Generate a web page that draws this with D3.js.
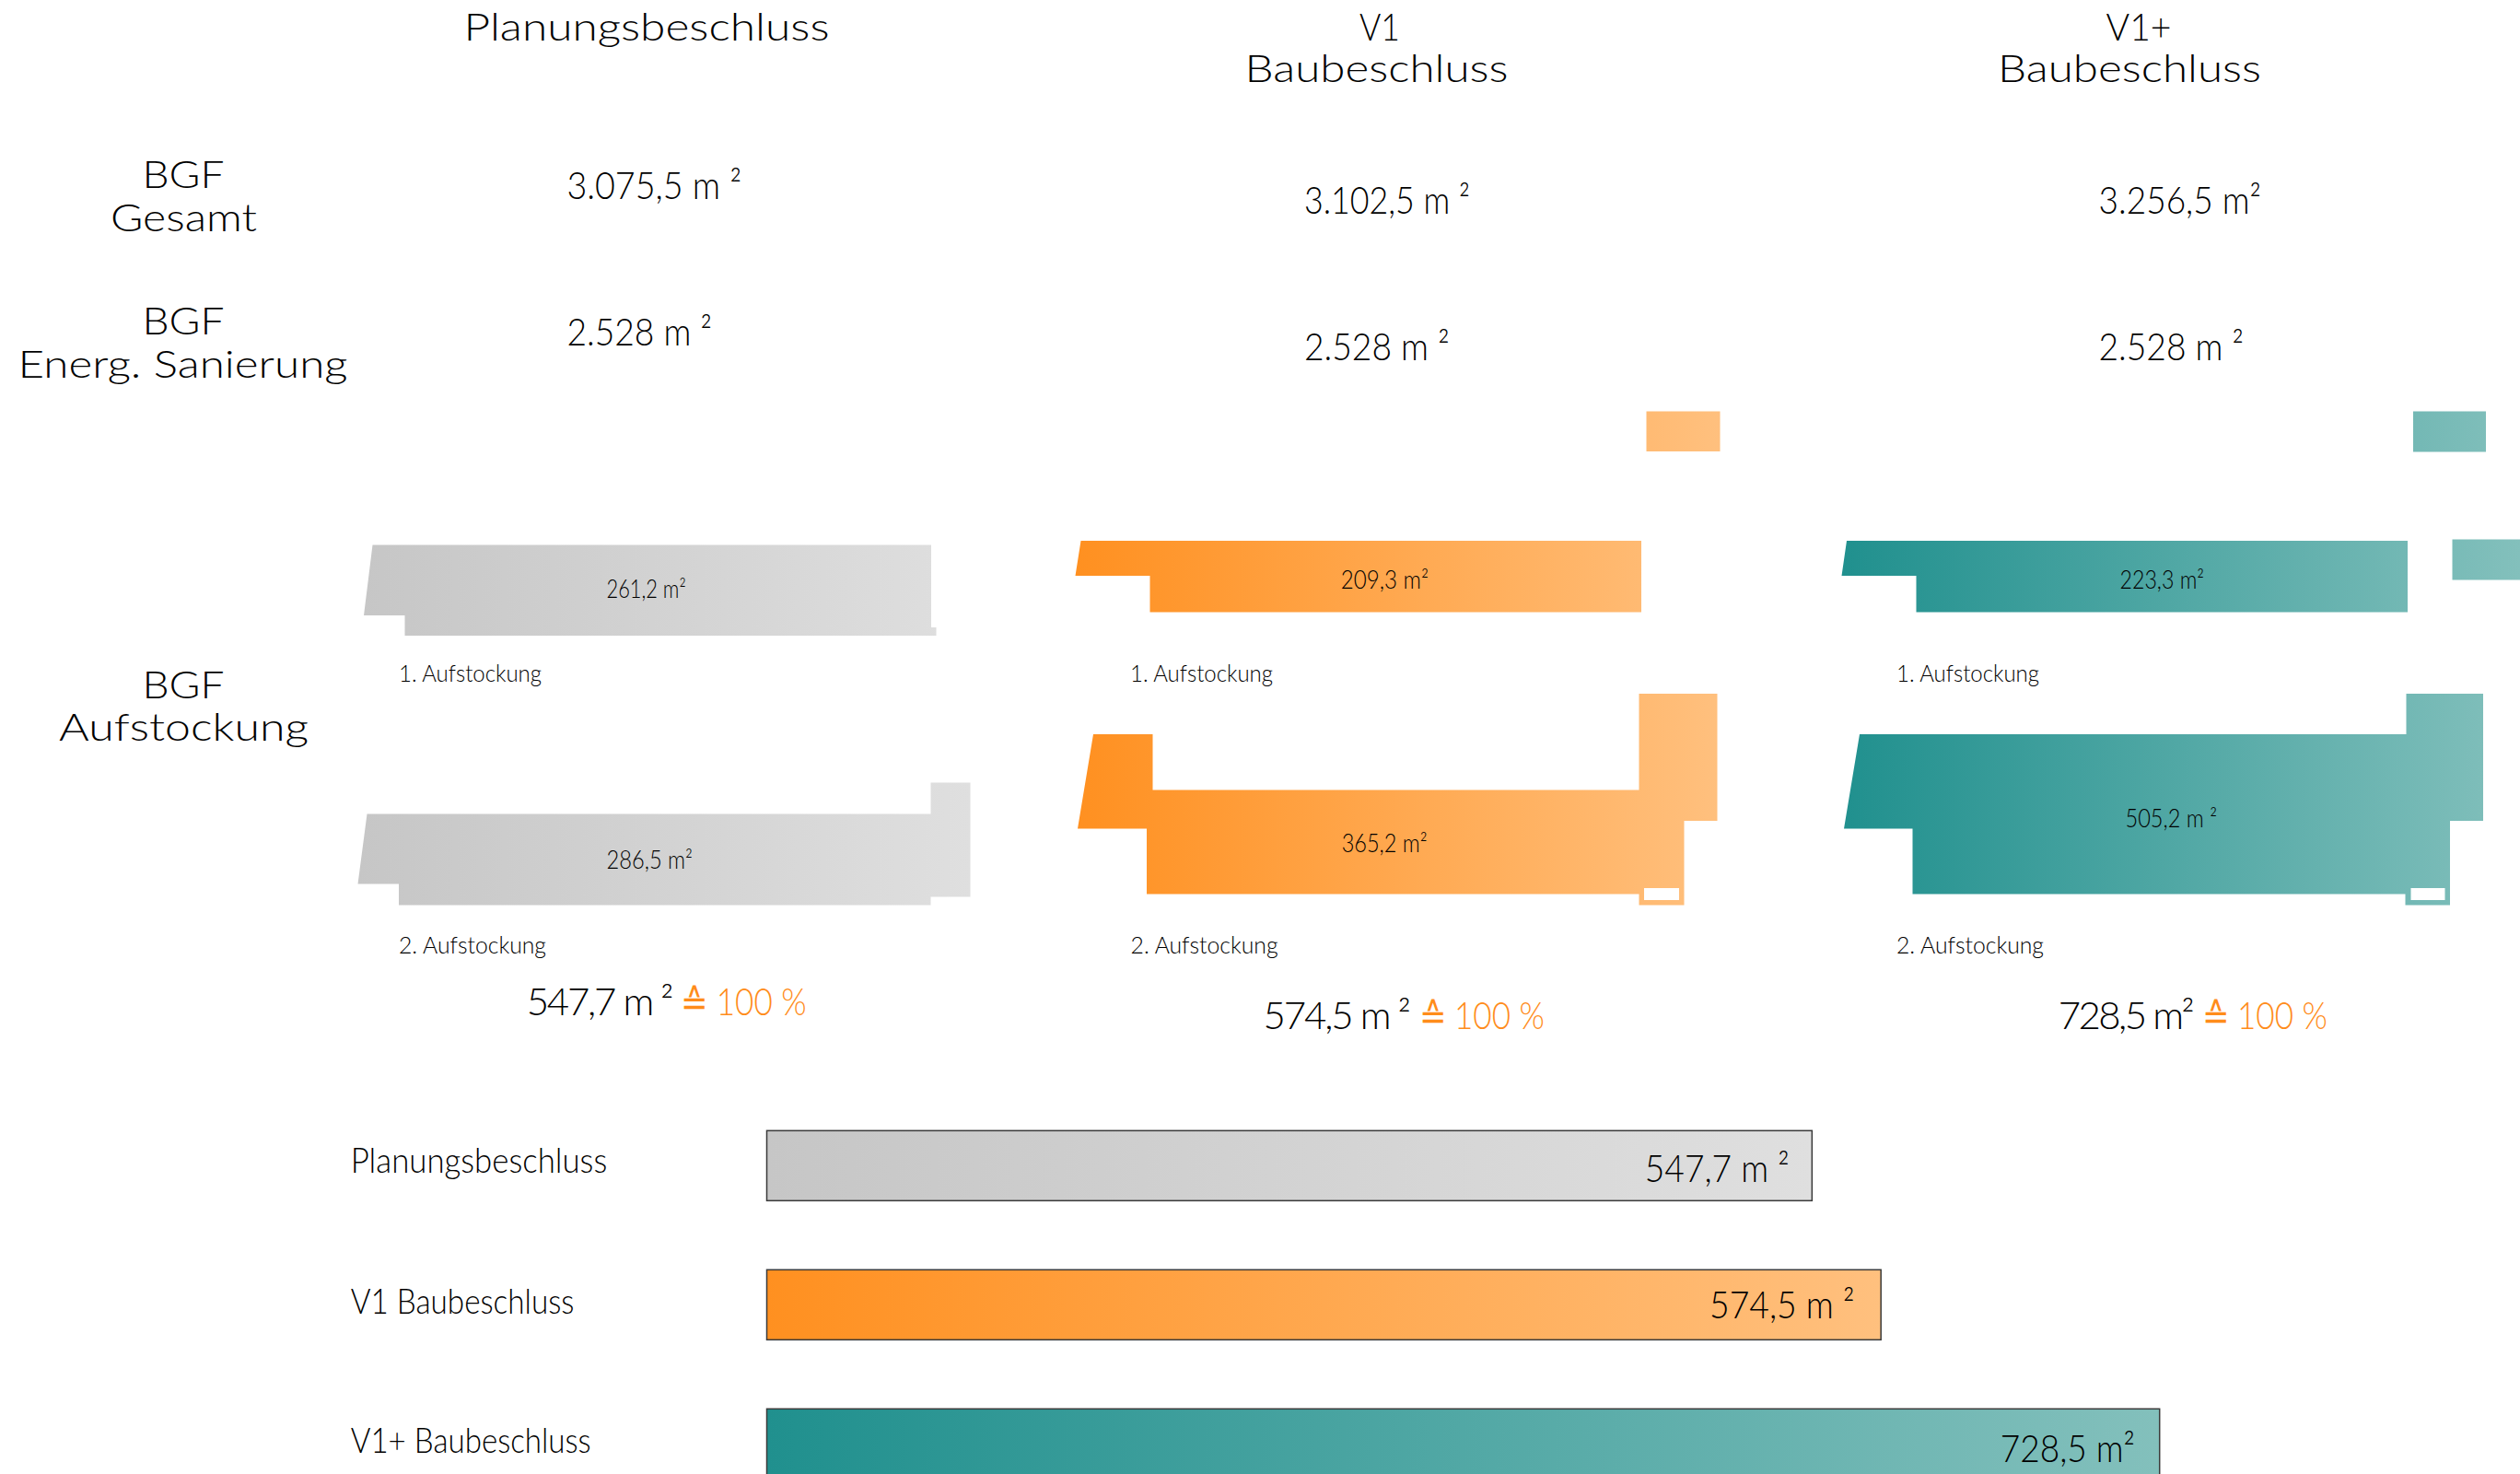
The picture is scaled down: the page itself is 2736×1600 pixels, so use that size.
<!DOCTYPE html>
<html>
<head>
<meta charset="utf-8">
<script src="https://cdn.jsdelivr.net/npm/d3@7"></script>
<style>
  html, body { margin: 0; padding: 0; background: white; overflow: hidden; }
  svg { display: block; }
  text { font-family: Lato, "Open Sans", sans-serif; font-weight: 300; fill: #000; }
</style>
</head>
<body>
<div id="chart"></div>
<script>
// values
const barNames = ['Planungsbeschluss', 'V1 Baubeschluss', 'V1+ Baubeschluss'];
const barLabels = ['547,7 m \u00b2', '574,5 m \u00b2', '728,5 m\u00b2'];
// the V1 bar is drawn a bit longer than its label says, same as in the picture
const barLengths = [547.3, 583.4, 729.3];

const bgfGesamt = ['3.075,5 m \u00b2', '3.102,5 m \u00b2', '3.256,5 m\u00b2'];
const bgfSanierung = ['2.528 m \u00b2', '2.528 m \u00b2', '2.528 m \u00b2'];
const floor1 = ['261,2 m\u00b2', '209,3 m\u00b2', '223,3 m\u00b2'];
const floor2 = ['286,5 m\u00b2', '365,2 m\u00b2', '505,2 m \u00b2'];
const floorTotal = ['547,7 m \u00b2', '574,5 m \u00b2', '728,5 m\u00b2'];

// gradient stops per variant
const startColors = ['#c6c6c6', '#ff9020', '#20908e'];
const endColors = ['#dfdfdf', '#ffc07e', '#83c0bc'];

// floor plan outlines in plan units, x from the column origin, y from the row origin
const plans = [
  [
    [[3.3,30.3],[124.6,30.3],[124.6,48.2],[125.7,48.2],[125.7,50],[10.3,50],[10.3,45.6],[1.4,45.6]],
    [[2.1,88.7],[124.5,88.7],[124.5,81.9],[133.1,81.9],[133.1,106.7],[124.5,106.7],[124.5,108.5],[9,108.5],[9,103.9],[0.1,103.9]]
  ],
  [
    [[124.1,1.3],[140.1,1.3],[140.1,10],[124.1,10]],
    [[1.3,29.4],[123,29.4],[123,44.9],[16.3,44.9],[16.3,37],[0.1,37]],
    [[4,71.4],[16.9,71.4],[16.9,83.5],[122.5,83.5],[122.5,62.6],[139.5,62.6],[139.5,90.2],[132.3,90.2],[132.3,108.5],[122.5,108.5],[122.5,106.1],[15.6,106.1],[15.6,91.9],[0.6,91.9]],
    [[123.6,104.8],[131.2,104.8],[131.2,107.4],[123.6,107.4]]
  ],
  [
    [[124.2,1.3],[140,1.3],[140,10.1],[124.2,10.1]],
    [[132.7,29.1],[150,29.1],[150,37.9],[132.7,37.9]],
    [[1.2,29.4],[123,29.4],[123,44.9],[16.3,44.9],[16.3,37],[0.1,37]],
    [[4,71.4],[122.7,71.4],[122.7,62.6],[139.4,62.6],[139.4,90.2],[132.2,90.2],[132.2,108.5],[122.5,108.5],[122.5,106.1],[15.5,106.1],[15.5,91.9],[0.6,91.9]],
    [[123.7,104.8],[131.1,104.8],[131.1,107.4],[123.7,107.4]]
  ]
];
const planOrigins = [388, 1167, 1999];
const planEnds = [133.1, 140.1, 147.4];

const width = 2736;
const height = 1600;

const svg = d3.select('#chart')
  .append('svg')
  .attr('width', width)
  .attr('height', height)
  .style('background', 'white');

const defs = svg.append('defs');

// text helper, w squeezes the string to the width it has in the picture
function label(x, y, str, size, w, anchor) {
  const t = svg.append('text')
    .attr('x', x)
    .attr('y', y)
    .attr('font-size', size)
    .attr('text-anchor', anchor || 'start')
    .text(str);
  if (w) t.attr('textLength', w).attr('lengthAdjust', 'spacingAndGlyphs');
  return t;
}

// column headers
label(702, 44, 'Planungsbeschluss', 41, 397, 'middle');
label(1498, 44, 'V1', 41, 44, 'middle');
label(1494.5, 89, 'Baubeschluss', 41, 286, 'middle');
label(2322, 44, 'V1+', 41, 71, 'middle');
label(2312, 89, 'Baubeschluss', 41, 286, 'middle');

// row headers
label(199, 204, 'BGF', 41, 89, 'middle');
label(199.5, 251, 'Gesamt', 41, 159, 'middle');
label(199, 363, 'BGF', 41, 89, 'middle');
label(198.5, 410, 'Energ. Sanierung', 41, 358, 'middle');
label(199, 758, 'BGF', 41, 89, 'middle');
label(199.5, 804, 'Aufstockung', 41, 271, 'middle');

// BGF rows
label(615.4, 216, bgfGesamt[0], 42, 189.6);
label(1416, 232, bgfGesamt[1], 42, 180);
label(2278.5, 232, bgfGesamt[2], 42, 176.5);
label(615.4, 375, bgfSanierung[0], 42, 157.6);
label(1416, 391, bgfSanierung[1], 42, 157.6);
label(2278.5, 391, bgfSanierung[2], 42, 157.5);

// floor plans
const planX = d3.scaleLinear().domain([0, 1]).range([0, 5]);
const planY = d3.scaleLinear().domain([0, 1]).range([440, 445]);

plans.forEach(function(rings, i) {
  const grad = defs.append('linearGradient')
    .attr('id', 'plan-' + i)
    .attr('gradientUnits', 'userSpaceOnUse')
    .attr('x1', planOrigins[i] + planX(0))
    .attr('x2', planOrigins[i] + planX(planEnds[i]))
    .attr('y1', 0)
    .attr('y2', 0);
  grad.append('stop').attr('offset', 0).attr('stop-color', startColors[i]);
  grad.append('stop').attr('offset', 1).attr('stop-color', endColors[i]);

  const line = d3.line()
    .x(d => planOrigins[i] + planX(d[0]))
    .y(d => planY(d[1]));

  svg.append('path')
    .attr('d', rings.map(r => line(r) + 'Z').join(''))
    .attr('fill', 'url(#plan-' + i + ')')
    .attr('fill-rule', 'evenodd');
});

// numbers inside the plans
label(658.5, 649, floor1[0], 27, 86.2);
label(658.5, 943, floor2[0], 27, 93.5);
label(1455.7, 638.5, floor1[1], 27, 95.3);
label(1456.7, 925, floor2[1], 27, 92.9);
label(2301.6, 638.5, floor1[2], 27, 91.4);
label(2307.5, 897.5, floor2[2], 27, 99.5);

// floor captions
label(433, 739.6, '1. Aufstockung', 25, 155);
label(433, 1035, '2. Aufstockung', 25, 160);
label(1227, 739.6, '1. Aufstockung', 25, 155);
label(1227.6, 1035, '2. Aufstockung', 25, 160);
label(2059, 739.6, '1. Aufstockung', 25, 155);
label(2059, 1035, '2. Aufstockung', 25, 160);

// totals below the plans, tightened by letter spacing so the symbol behind stays free
function total(x, y, str, w, eqX, pctX) {
  const t = label(x, y, str, 42);
  const len = t.node().getComputedTextLength();
  t.style('letter-spacing', ((w - len) / str.length) + 'px');
  label(eqX - 3, y, '\u2259', 40, 30).style('fill', '#ff8c1a').style('font-family', '"DejaVu Sans"');
  label(pctX, y, '100 %', 42, 98).style('fill', '#ff8c1a');
}
total(571.7, 1102, floorTotal[0], 157.3, 742, 777.7);
total(1371.5, 1117, floorTotal[1], 158.2, 1543.5, 1579);
total(2234.8, 1117, floorTotal[2], 145.2, 2394, 2429);

// bars at the bottom
const xScale = d3.scaleLinear().domain([0, 730]).range([832.5, 832.5 + 730 * 2.0735]);
const yScale = d3.scaleBand()
  .domain(barNames)
  .range([1227.3, 1227.3 + 151 * 2 + 76])
  .paddingInner(75 / 151)
  .paddingOuter(0);

barNames.forEach(function(name, i) {
  const grad = defs.append('linearGradient').attr('id', 'bar-' + i);
  grad.append('stop').attr('offset', 0).attr('stop-color', startColors[i]);
  grad.append('stop').attr('offset', 1).attr('stop-color', endColors[i]);
});

svg.insert('g', 'text')
  .selectAll('.bar')
  .data(barNames)
  .enter()
  .append('rect')
  .attr('class', 'bar')
  .attr('x', xScale(0))
  .attr('y', d => yScale(d))
  .attr('width', (d, i) => xScale(barLengths[i]) - xScale(0))
  .attr('height', yScale.bandwidth())
  .attr('fill', (d, i) => 'url(#bar-' + i + ')')
  .attr('stroke', '#3a3a3a')
  .attr('stroke-width', 1.5);

label(380.7, 1273, barNames[0], 37, 278.5);
label(380.7, 1425.7, barNames[1], 37, 242.7);
label(380.7, 1576.7, barNames[2], 37, 261);

label(1785.8, 1282.7, barLabels[0], 42, 156.9);
label(1856, 1430.7, barLabels[1], 42, 157.5);
label(2171.7, 1586.7, barLabels[2], 42, 146.3);
</script>
</body>
</html>
